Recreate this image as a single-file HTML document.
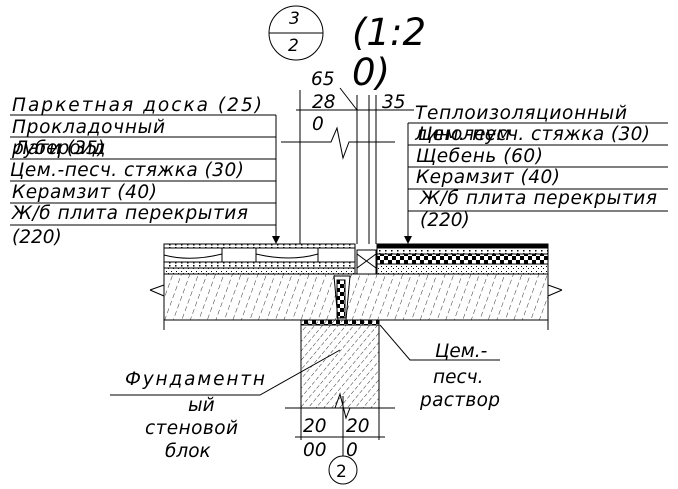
<!DOCTYPE html>
<html><head><meta charset="utf-8"><style>
html,body{margin:0;padding:0;background:#fff}
svg{display:block}
text{font-family:"DejaVu Sans","Liberation Sans",sans-serif;font-style:italic;fill:#000}
</style></head><body>
<svg width="678" height="489" viewBox="0 0 678 489" xmlns="http://www.w3.org/2000/svg">
<defs>
<pattern id="hat" width="8" height="8" patternUnits="userSpaceOnUse" patternTransform="rotate(20)">
<line x1="0" y1="0" x2="0" y2="5" stroke="#000" stroke-width="0.8"/></pattern>
<pattern id="hat2" width="6" height="6" patternUnits="userSpaceOnUse" patternTransform="rotate(40)">
<line x1="0" y1="0" x2="0" y2="4" stroke="#000" stroke-width="0.8"/></pattern>
<pattern id="dot" width="6" height="3" patternUnits="userSpaceOnUse"><rect x="1" y="1" width="1.5" height="1.5" fill="#000"/></pattern>
<pattern id="chk" width="8" height="8" patternUnits="userSpaceOnUse"><rect width="4" height="4" fill="#000"/><rect x="4" y="4" width="4" height="4" fill="#000"/></pattern>
<pattern id="spk" width="5" height="5" patternUnits="userSpaceOnUse"><rect x="1" y="1" width="1" height="1" fill="#000"/><rect x="3" y="3" width="1" height="1" fill="#000"/></pattern>
</defs>
<g stroke="#000" fill="none" stroke-width="1">
<circle cx="296" cy="33" r="27"/><line x1="269" y1="33" x2="323" y2="33"/>
<path d="M10 115H276M10 137H276M10 159H276M10 181H276M10 203H276M10 225H276M276 115V240"/>
<path d="M408 123H668M408 145H668M408 167H668M408 189H668M408 211H668M408 123V240"/>
<path d="M300 90V244M357 95V244M369 95V244M376 95V244M296 110H414M340 88L357 110"/>
<path d="M281 142H331L337 128L343 158L349 142H395"/>
<rect x="164" y="244" width="191" height="4" fill="url(#dot)"/>
<rect x="164" y="248" width="191" height="14"/>
<path d="M164 255Q190 262 222 254M256 254Q290 262 318 254M222 248V262M256 248V262M318 248V262"/>
<rect x="164" y="262" width="191" height="6" fill="url(#dot)"/>
<rect x="164" y="268" width="191" height="6" fill="url(#spk)"/>
<rect x="377" y="244" width="171" height="4" fill="#000"/>
<rect x="377" y="248" width="171" height="6" fill="url(#dot)"/>
<rect x="377" y="254" width="171" height="10" fill="url(#chk)"/>
<rect x="377" y="264" width="171" height="10" fill="url(#spk)"/>
<rect x="357" y="250" width="19" height="24"/><path d="M357 254L376 268M376 254L357 268"/>
<rect x="164" y="274" width="384" height="46" fill="url(#hat)"/>
<path d="M334 276L350 276L346 320L338 320Z" fill="#fff"/>
<rect x="337" y="280" width="8" height="38" fill="url(#chk)"/>
<path d="M164 274V330M548 274V330M150 290L164 285M150 290L164 296M562 290L548 285M562 290L548 296"/>
<rect x="301" y="320" width="78" height="88" fill="url(#hat2)"/>
<rect x="301" y="320" width="78" height="5" fill="url(#chk)"/>
<path d="M285 408H335L340 394L346 418L350 408H395"/>
<path d="M301 408V440M343 396V456M379 408V440M295 437H385"/>
<circle cx="343" cy="470" r="14"/>
<path d="M110 395H260L340 350M380 325L410 360H500"/>
</g>
<path d="M272 236L276 244L280 236Z M404 236L408 244L412 236Z" fill="#000"/>
<g font-size="17" style="font-style:normal">
<text x="289" y="24">3</text><text x="288" y="51">2</text><text x="336" y="477" style="font-style:normal">2</text>
</g>
<text x="352" y="45" font-size="37">(1:2</text>
<text x="352" y="85" font-size="37">0)</text>
<g font-size="18.5" lengthAdjust="spacing">
<text x="12" y="111" textLength="250">Паркетная доска (25)</text>
<text x="12" y="133" textLength="153">Прокладочный</text>
<text x="12" y="154">рубероид</text>
<text x="14" y="154">Лаги (35)</text>
<text x="10" y="176" textLength="234">Цем.-песч. стяжка (30)</text>
<text x="12" y="198" textLength="145">Керамзит (40)</text>
<text x="12" y="219" textLength="236">Ж/б плита перекрытия</text>
<text x="12" y="243">(220)</text>
<text x="415" y="119" textLength="212">Теплоизоляционный</text>
<text x="415" y="140">линолеум</text>
<text x="418" y="140" textLength="232">Цем.-песч. стяжка (30)</text>
<text x="416" y="162" textLength="127">Щебень (60)</text>
<text x="416" y="183" textLength="144">Керамзит (40)</text>
<text x="420" y="204" textLength="237">Ж/б плита перекрытия</text>
<text x="420" y="226">(220)</text>
<text x="311" y="85">65</text><text x="312" y="108">28</text><text x="312" y="130">0</text>
<text x="382" y="108">35</text>
<text x="303" y="432">20</text><text x="303" y="456">00</text>
<text x="346" y="432">20</text><text x="346" y="456">0</text>
<text x="125" y="385" textLength="140">Фундаментн</text><text x="188" y="411">ый</text>
<text x="145" y="434" textLength="93">стеновой</text><text x="165" y="457">блок</text>
<text x="435" y="357">Цем.-</text><text x="433" y="383">песч.</text><text x="420" y="406" textLength="80">раствор</text>
</g>
</svg>
</body></html>
